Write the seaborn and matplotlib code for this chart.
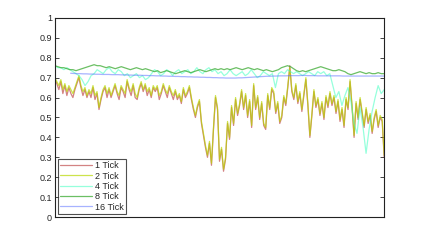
import numpy as np
import pandas as pd
import seaborn as sns
import matplotlib
matplotlib.use("Agg")
import matplotlib.pyplot as plt

series_names = ["1 Tick", "2 Tick", "4 Tick", "8 Tick", "16 Tick"]

# sampled every ~2 px across the plot
tick2 = [0.70, 0.68, 0.66, 0.69, 0.64, 0.67, 0.63, 0.66, 0.64, 0.62,
         0.65, 0.68, 0.71, 0.66, 0.63, 0.65, 0.61, 0.64, 0.62, 0.66,
         0.61, 0.63, 0.55, 0.60, 0.64, 0.66, 0.62, 0.65, 0.61, 0.64,
         0.67, 0.63, 0.61, 0.66, 0.64, 0.62, 0.69, 0.65, 0.63, 0.67,
         0.62, 0.60, 0.65, 0.68, 0.64, 0.67, 0.63, 0.65, 0.61, 0.66,
         0.64, 0.66, 0.61, 0.63, 0.67, 0.64, 0.62, 0.66, 0.63, 0.61,
         0.64, 0.60, 0.62, 0.58, 0.65, 0.61, 0.63, 0.66, 0.60, 0.55,
         0.51, 0.56, 0.59, 0.48, 0.42, 0.36, 0.31, 0.38, 0.27, 0.45,
         0.61, 0.55, 0.29, 0.35, 0.24, 0.30, 0.48, 0.40, 0.56, 0.47,
         0.60, 0.52, 0.57, 0.64, 0.55, 0.62, 0.51, 0.59, 0.46, 0.67,
         0.55, 0.61, 0.50, 0.58, 0.47, 0.45, 0.62, 0.55, 0.65, 0.63,
         0.53, 0.58, 0.48, 0.51, 0.61, 0.57, 0.66, 0.75, 0.64, 0.60,
         0.67, 0.58, 0.63, 0.54, 0.62, 0.70, 0.57, 0.41, 0.52, 0.64,
         0.56, 0.60, 0.52, 0.58, 0.50, 0.61, 0.56, 0.63, 0.57, 0.61,
         0.53, 0.59, 0.49, 0.55, 0.46, 0.60, 0.55, 0.69, 0.56, 0.41,
         0.58, 0.50, 0.60, 0.53, 0.46, 0.55, 0.48, 0.52, 0.43, 0.50,
         0.54, 0.46, 0.51, 0.49, 0.31]

tick1 = [0.69, 0.67, 0.64, 0.68, 0.62, 0.66, 0.61, 0.65, 0.62, 0.60,
         0.64, 0.67, 0.70, 0.65, 0.61, 0.64, 0.60, 0.63, 0.60, 0.65,
         0.59, 0.62, 0.54, 0.59, 0.63, 0.65, 0.60, 0.64, 0.60, 0.63,
         0.66, 0.62, 0.59, 0.65, 0.63, 0.60, 0.68, 0.64, 0.61, 0.66,
         0.60, 0.59, 0.64, 0.67, 0.63, 0.66, 0.61, 0.64, 0.60, 0.65,
         0.63, 0.65, 0.59, 0.62, 0.66, 0.63, 0.60, 0.65, 0.62, 0.59,
         0.63, 0.59, 0.61, 0.57, 0.64, 0.60, 0.62, 0.65, 0.59, 0.54,
         0.50, 0.55, 0.58, 0.47, 0.41, 0.35, 0.30, 0.37, 0.26, 0.44,
         0.60, 0.54, 0.28, 0.34, 0.23, 0.29, 0.47, 0.39, 0.55, 0.46,
         0.59, 0.51, 0.56, 0.63, 0.54, 0.61, 0.50, 0.58, 0.45, 0.66,
         0.54, 0.60, 0.49, 0.57, 0.46, 0.44, 0.61, 0.54, 0.64, 0.62,
         0.52, 0.57, 0.47, 0.50, 0.60, 0.56, 0.65, 0.76, 0.63, 0.59,
         0.66, 0.57, 0.62, 0.53, 0.61, 0.69, 0.56, 0.40, 0.51, 0.63,
         0.55, 0.59, 0.51, 0.57, 0.49, 0.60, 0.55, 0.62, 0.56, 0.60,
         0.52, 0.58, 0.48, 0.54, 0.45, 0.59, 0.54, 0.68, 0.55, 0.40,
         0.57, 0.49, 0.59, 0.52, 0.45, 0.54, 0.47, 0.51, 0.42, 0.49,
         0.53, 0.45, 0.50, 0.48, 0.30]

# sampled every ~3 px
tick4 = [0.76, 0.75, 0.75, 0.74, 0.75, 0.74, 0.73, 0.72, 0.71, 0.69,
         0.66, 0.68, 0.71, 0.72, 0.74, 0.73, 0.72, 0.74, 0.75, 0.73,
         0.72, 0.74, 0.73, 0.71, 0.72, 0.70, 0.71, 0.72, 0.70, 0.71,
         0.69, 0.70, 0.72, 0.74, 0.73, 0.71, 0.72, 0.74, 0.73, 0.71,
         0.73, 0.74, 0.72, 0.73, 0.74, 0.72, 0.73, 0.75, 0.73, 0.72,
         0.74, 0.75, 0.73, 0.74, 0.72, 0.73, 0.71, 0.72, 0.74, 0.72,
         0.71, 0.72, 0.73, 0.71, 0.72, 0.74, 0.72, 0.70, 0.71, 0.73,
         0.72, 0.71, 0.72, 0.65, 0.72, 0.73, 0.72, 0.74, 0.73, 0.72,
         0.73, 0.72, 0.71, 0.72, 0.73, 0.72, 0.71, 0.73, 0.72, 0.73,
         0.71, 0.72, 0.66, 0.60, 0.63, 0.56, 0.61, 0.65, 0.58, 0.47,
         0.42, 0.55, 0.45, 0.32, 0.44, 0.53, 0.60, 0.66, 0.62, 0.64]

tick8 = [0.760, 0.755, 0.750, 0.750, 0.745, 0.740, 0.740, 0.735, 0.740, 0.745,
         0.750, 0.755, 0.760, 0.765, 0.760, 0.760, 0.755, 0.750, 0.755, 0.750,
         0.745, 0.750, 0.755, 0.750, 0.745, 0.740, 0.745, 0.750, 0.745, 0.740,
         0.745, 0.740, 0.735, 0.730, 0.735, 0.725, 0.730, 0.735, 0.730, 0.725,
         0.720, 0.725, 0.730, 0.735, 0.730, 0.725, 0.730, 0.735, 0.740, 0.735,
         0.730, 0.735, 0.740, 0.745, 0.740, 0.745, 0.740, 0.745, 0.740, 0.745,
         0.750, 0.745, 0.740, 0.745, 0.750, 0.745, 0.740, 0.745, 0.740, 0.735,
         0.740, 0.735, 0.730, 0.735, 0.740, 0.750, 0.755, 0.760, 0.755, 0.745,
         0.735, 0.730, 0.735, 0.730, 0.735, 0.740, 0.745, 0.750, 0.755, 0.750,
         0.745, 0.740, 0.735, 0.735, 0.740, 0.735, 0.730, 0.720, 0.715, 0.720,
         0.725, 0.730, 0.725, 0.720, 0.725, 0.720, 0.720, 0.725, 0.720, 0.720]

tick16 = [np.nan, np.nan, np.nan, np.nan, np.nan,
          0.722, 0.721, 0.720, 0.720, 0.719, 0.719, 0.718, 0.718, 0.717, 0.717,
          0.716, 0.716, 0.716, 0.715, 0.715, 0.715, 0.714, 0.714, 0.713, 0.713,
          0.712, 0.712, 0.712, 0.711, 0.711, 0.710, 0.710, 0.709, 0.709, 0.708,
          0.708, 0.707, 0.707, 0.706, 0.706, 0.705, 0.705, 0.704, 0.704, 0.703,
          0.703, 0.702, 0.702, 0.701, 0.701, 0.700, 0.700, 0.699, 0.699, 0.698,
          0.698, 0.698, 0.698, 0.699, 0.699, 0.700, 0.701, 0.702, 0.703, 0.704,
          0.705, 0.706, 0.707, 0.707, 0.708, 0.708, 0.709, 0.709, 0.709, 0.710,
          0.710, 0.710, 0.710, 0.711, 0.711, 0.710, 0.710, 0.710, 0.709, 0.709,
          0.709, 0.709, 0.709, 0.709, 0.709, 0.709, 0.708, 0.708, 0.708, 0.708,
          0.708, 0.708, 0.708, 0.708, 0.708, 0.708, 0.708, 0.708, 0.708, 0.708]

colors = ["#a80808", "#b8d800", "#40ffc0", "#3aaa30", "#5068ff"]
alphas = [0.5, 0.7, 0.55, 0.75, 0.5]

# long format for seaborn; x runs over the full width for every series
frames = []
for name, vals in zip(series_names, [tick1, tick2, tick4, tick8, tick16]):
    frames.append(pd.DataFrame({"step": np.linspace(0, 1, len(vals)),
                                "value": vals, "series": name}))
df = pd.concat(frames, ignore_index=True).dropna()

sns.set_style("white")
plt.rcParams["font.family"] = ["Liberation Sans", "DejaVu Sans"]

fig = plt.figure(figsize=(4.25, 2.45), dpi=100)
ax = fig.add_axes([0.129, 0.114, 0.775, 0.813])

for name, c, a in zip(series_names, colors, alphas):
    sns.lineplot(data=df[df["series"] == name], x="step", y="value",
                 color=c, alpha=a, linewidth=0.9, label=name, ax=ax)

ax.set_xlim(0, 1)
ax.set_ylim(0, 1)
ax.set_yticks(np.arange(0, 1.01, 0.1))
ax.set_yticklabels(["0", "0.1", "0.2", "0.3", "0.4", "0.5", "0.6", "0.7", "0.8", "0.9", "1"])
ax.set_xticks([])
ax.set_xlabel("")
ax.set_ylabel("")
ax.tick_params(axis="y", direction="in", length=3, width=0.6, labelsize=6.5,
               right=True, left=True, pad=2)
for sp in ax.spines.values():
    sp.set_linewidth(0.8)
    sp.set_color("#222222")

leg = ax.legend(loc="lower left", fontsize=6.5, frameon=True, fancybox=False,
                handlelength=3.5, borderpad=0.3, labelspacing=0.15,
                handletextpad=0.3, borderaxespad=0.3)
leg.get_frame().set_edgecolor("#222222")
leg.get_frame().set_linewidth(0.8)

fig.savefig("out.png", dpi=100)
